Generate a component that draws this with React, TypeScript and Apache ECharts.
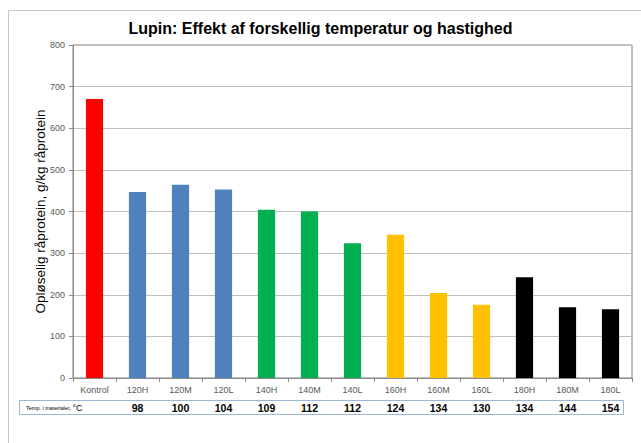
import React, { useEffect, useRef } from "react";
import * as echarts from "echarts";

const categories = ["Kontrol", "120H", "120M", "120L", "140H", "140M", "140L", "160H", "160M", "160L", "180H", "180M", "180L"];
const values = [670, 447, 464, 453, 404, 400, 324, 344, 204, 176, 242, 170, 165];
const barColors = ["#ff0000", "#4f81bd", "#4f81bd", "#4f81bd", "#00b050", "#00b050", "#00b050", "#ffc000", "#ffc000", "#ffc000", "#000000", "#000000", "#000000"];
const temps = ["", "98", "100", "104", "109", "112", "112", "124", "134", "130", "134", "144", "154"];
const yTicks = { min: 0, max: 800, interval: 100 };

const titleText = "Lupin: Effekt af forskellig temperatur og hastighed";
const yName = "Opløselig råprotein, g/kg råprotein";

export default function App() {
  const ref = useRef<HTMLDivElement>(null);
  useEffect(() => {
    if (!ref.current) return;
    const chart = echarts.init(ref.current, null, { renderer: "svg" });
    const font = "'Liberation Sans', Arial, sans-serif";
    chart.setOption({
      animation: false,
      backgroundColor: "#ffffff",
      textStyle: { fontFamily: font },
      title: {
        text: titleText,
        left: "center",
        top: 15,
        textStyle: { fontSize: 16, fontWeight: "bold", color: "#000", fontFamily: font },
      },
      grid: { left: 73, right: 9, top: 45, bottom: 65, show: true, borderColor: "#7f7f7f", borderWidth: 1 },
      xAxis: [
        {
          type: "category",
          data: categories,
          axisLine: { lineStyle: { color: "#8c8c8c" } },
          axisTick: { show: true, length: 4, lineStyle: { color: "#8c8c8c" } },
          axisLabel: { fontSize: 9, color: "#595959", margin: 7, fontFamily: font },
        },
        {
          type: "category",
          data: categories,
          position: "bottom",
          offset: 0,
          axisLine: { show: false },
          axisTick: { show: false },
          axisLabel: {
            margin: 24,
            fontSize: 10.5,
            fontWeight: "bold",
            color: "#000",
            fontFamily: font,
            formatter: (_v: string, i: number) => temps[i],
          },
        },
      ],
      yAxis: {
        type: "value",
        min: yTicks.min,
        max: yTicks.max,
        interval: yTicks.interval,
        name: yName,
        nameLocation: "middle",
        nameGap: 26,
        nameMoveOverlap: false,
        nameTextStyle: { fontSize: 13.5, color: "#000", fontFamily: font },
        axisLine: { show: true, lineStyle: { color: "#8c8c8c" } },
        axisTick: { show: true, length: 4, lineStyle: { color: "#8c8c8c" } },
        axisLabel: { fontSize: 9, color: "#595959", margin: 8, fontFamily: font },
        splitLine: { lineStyle: { color: "#bfbfbf" } },
      },
      series: [
        {
          type: "bar",
          xAxisIndex: 0,
          barWidth: "40%",
          data: values.map((v, i) => ({ value: v, itemStyle: { color: barColors[i] } })),
        },
      ],
      graphic: [
        {
          type: "polyline",
          shape: { points: [[8.5, 443], [8.5, 10.5], [641, 10.5]] },
          style: { stroke: "#c8c8c8", lineWidth: 1, fill: null },
          silent: true,
        },
        {
          type: "rect",
          shape: { x: 19.5, y: 400.5, width: 604, height: 14 },
          style: { stroke: "#9bb7d4", lineWidth: 1, fill: null },
          silent: true,
        },
        {
          type: "text",
          x: 26,
          y: 407.5,
          style: {
            text: "{a|Temp. i materialet, }{b|°C}",
            verticalAlign: "middle",
            rich: {
              a: { fontSize: 5.5, fontFamily: font, fill: "#000", verticalAlign: "middle" },
              b: { fontSize: 9, fontFamily: font, fill: "#000", verticalAlign: "middle" },
            },
          },
          silent: true,
        },
      ],
    });
    return () => chart.dispose();
  }, []);
  return <div ref={ref} style={{ position: "absolute", left: 0, top: 0, width: 641, height: 443 }} />;
}
